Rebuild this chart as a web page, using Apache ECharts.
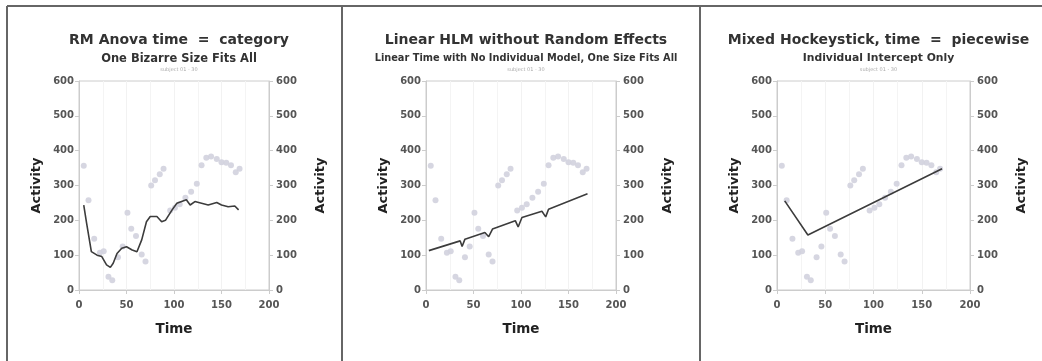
<!DOCTYPE html>
<html>
<head>
<meta charset="utf-8">
<script src="https://cdn.jsdelivr.net/npm/echarts@6/dist/echarts.min.js"></script>
<style>
html, body { margin: 0; padding: 0; background: #fff; }
#main { width: 1042px; height: 361px; }
</style>
</head>
<body>
<div id="main"></div>
<script>
// observed activity by time (same points in all three panels)
var timePts = [5, 10, 16, 22, 26, 31, 35, 41, 46, 51, 55, 60, 66, 70, 76, 80, 85, 89, 96, 101, 106, 112, 118, 124, 129, 134, 139, 145, 150, 155, 160, 165, 169];
var activityPts = [357, 258, 147, 107, 111, 38, 28, 94, 125, 222, 176, 155, 102, 82, 300, 315, 332, 348, 228, 236, 246, 265, 282, 305, 358, 380, 383, 376, 367, 365, 358, 338, 348];

// fitted lines
var anovaTime = [5, 8, 13, 19, 24, 29, 33, 36, 40, 45, 50, 56, 61, 66, 71, 75, 82, 87, 91, 98, 103, 108, 113, 117, 122, 129, 136, 145, 150, 157, 164, 168];
var anovaFit = [244, 192, 110, 100, 96, 72, 65, 77, 105, 120, 124, 115, 110, 144, 196, 211, 211, 196, 200, 230, 249, 254, 259, 244, 254, 249, 244, 251, 244, 239, 241, 230];
var linTime = [3, 36, 38, 41, 62, 66, 70, 94, 97, 101, 122, 126, 129, 170];
var linFit = [113, 141, 125, 146, 165, 153, 175, 199, 181, 208, 226, 210, 232, 276];
var hockeyTime = [8, 32, 171];
var hockeyFit = [256, 158, 348];

var titles = ['RM Anova time  =  category', 'Linear HLM without Random Effects', 'Mixed Hockeystick, time  =  piecewise'];
var subtitles = ['One Bizarre Size Fits All', 'Linear Time with No Individual Model, One Size Fits All', 'Individual Intercept Only'];
var notes = ['subject 01 - 30', 'subject 01 - 30', 'subject 01 - 30'];

var pairs = function (xs, ys) {
	var res = [];
	for (var i = 0; i < xs.length; i++) {
		res.push([xs[i], ys[i]]);
	}
	return res;
};

var chart = echarts.init(document.getElementById('main'));

var grids = [
	{left: 79, top: 81, width: 190, height: 209},
	{left: 426, top: 81, width: 190, height: 209},
	{left: 777, top: 81, width: 193, height: 209}
];
var fits = [pairs(anovaTime, anovaFit), pairs(linTime, linFit), pairs(hockeyTime, hockeyFit)];
var subSize = [11.5, 9.8, 10.8];

var font = 'DejaVu Sans, Verdana, sans-serif';
var option = {
	animation: false,
	title: [],
	grid: [],
	xAxis: [],
	yAxis: [],
	series: [],
	graphic: [
		{type: 'line', shape: {x1: 7, y1: 6, x2: 1042, y2: 6}, style: {stroke: '#666', lineWidth: 2}},
		{type: 'line', shape: {x1: 7, y1: 6, x2: 7, y2: 361}, style: {stroke: '#666', lineWidth: 2}},
		{type: 'line', shape: {x1: 342, y1: 6, x2: 342, y2: 361}, style: {stroke: '#666', lineWidth: 2}},
		{type: 'line', shape: {x1: 700, y1: 6, x2: 700, y2: 361}, style: {stroke: '#666', lineWidth: 2}}
	]
};

var axisLabel = {color: '#555', fontSize: 10, fontWeight: 'bold', fontFamily: font, margin: 5};
var nameStyle = {color: '#222', fontSize: 13, fontWeight: 'bold', fontFamily: font};

for (var p = 0; p < 3; p++) {
	var g = grids[p];
	var cx = g.left + g.width / 2;
	option.grid.push({left: g.left, top: g.top, width: g.width, height: g.height,
		show: true, borderColor: '#ccc', borderWidth: 1, backgroundColor: 'transparent'});
	option.title.push({text: titles[p], left: cx, top: 28, textAlign: 'center',
		textStyle: {color: '#333', fontSize: 14, fontWeight: 'bold', fontFamily: font}});
	option.title.push({text: subtitles[p], left: cx, top: 48, textAlign: 'center',
		textStyle: {color: '#333', fontSize: subSize[p], fontWeight: 'bold', fontFamily: font}});
	option.title.push({text: notes[p], left: cx, top: 62, textAlign: 'center',
		textStyle: {color: '#aaa', fontSize: 5, fontWeight: 'normal', fontFamily: font}});

	option.xAxis.push({
		type: 'value', gridIndex: p, min: 0, max: 200, interval: 50,
		name: 'Time', nameLocation: 'middle', nameGap: 32,
		nameTextStyle: {color: '#222', fontSize: 13.5, fontWeight: 'bold', fontFamily: font},
		axisLine: {show: true, lineStyle: {color: '#ccc'}},
		axisTick: {show: true, length: 4, lineStyle: {color: '#ccc'}},
		axisLabel: {color: '#555', fontSize: 10, fontWeight: 'bold', fontFamily: font, margin: 10},
		minorTick: {show: false, splitNumber: 2},
		splitLine: {show: true, lineStyle: {color: '#f2f2f2'}},
		minorSplitLine: {show: true, lineStyle: {color: '#f4f4f4'}}
	});
	option.yAxis.push({
		type: 'value', gridIndex: p, position: 'left', min: 0, max: 600, interval: 100,
		name: 'Activity', nameLocation: 'middle', nameGap: 36, nameRotate: 90, nameTextStyle: nameStyle,
		axisLine: {show: true, lineStyle: {color: '#ccc'}},
		axisTick: {show: true, length: 4, lineStyle: {color: '#ccc'}},
		axisLabel: axisLabel,
		splitLine: {show: false}
	});
	option.yAxis.push({
		type: 'value', gridIndex: p, position: 'right', min: 0, max: 600, interval: 100,
		name: 'Activity', nameLocation: 'middle', nameGap: 45, nameRotate: 90, nameTextStyle: nameStyle,
		axisLine: {show: true, lineStyle: {color: '#ccc'}},
		axisTick: {show: true, length: 4, lineStyle: {color: '#ccc'}},
		axisLabel: {color: '#555', fontSize: 10, fontWeight: 'bold', fontFamily: font, margin: 7},
		splitLine: {show: false}
	});

	option.series.push({
		type: 'scatter', xAxisIndex: p, yAxisIndex: p * 2,
		data: pairs(timePts, activityPts),
		symbolSize: 6,
		itemStyle: {color: '#d2d2de', opacity: 0.9}
	});
	option.series.push({
		type: 'line', xAxisIndex: p, yAxisIndex: p * 2,
		data: fits[p], showSymbol: false, smooth: false,
		lineStyle: {color: '#3c3c3c', width: 1.6}
	});
}

chart.setOption(option);
</script>
</body>
</html>
